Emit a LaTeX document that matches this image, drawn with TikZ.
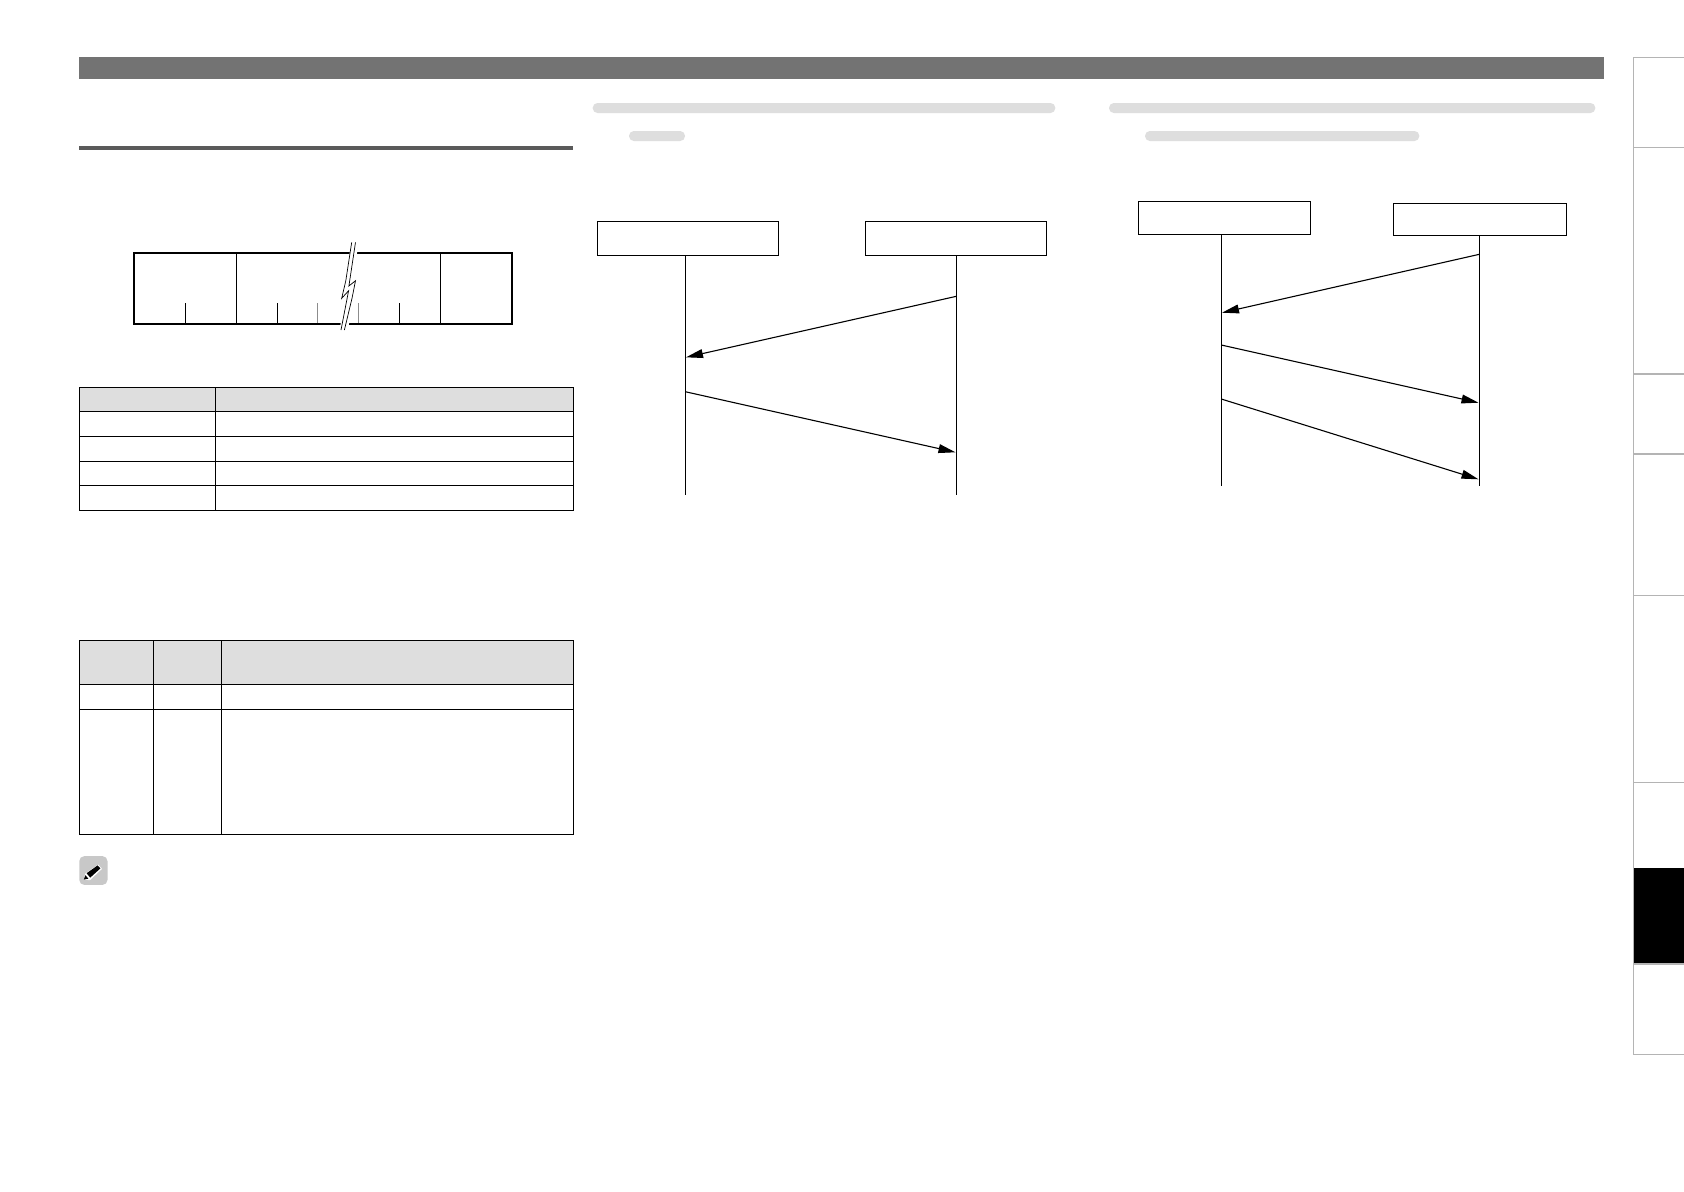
\documentclass[tikz,border=0pt]{standalone}
\usetikzlibrary{arrows.meta}
\definecolor{barc}{HTML}{737373}
\definecolor{rulec}{HTML}{5A5A5A}
\definecolor{headc}{HTML}{DEDEDE}
\definecolor{iconc}{HTML}{C8C8C8}
\definecolor{sidec}{HTML}{B4B4B4}
\tikzset{
  tbl/.style={draw=black,line width=0.6pt},
  pill/.style={fill=headc,rounded corners=2.4pt},
  fieldframe/.style={draw=black,line width=1pt},
  fieldline/.style={draw=black,line width=0.5pt},
  graytick/.style={draw=black!45,line width=0.5pt},
  partybox/.style={draw=black,line width=0.55pt,fill=white,rectangle,inner sep=0pt,outer sep=0pt,anchor=north west},
  lifeline/.style={draw=black,line width=0.55pt},
  msg/.style={draw=black,line width=0.55pt,-{Triangle[length=8.5pt,width=4.4pt]}},
  sideline/.style={draw=sidec,line width=0.5pt},
  sidethick/.style={draw=sidec,line width=1pt},
}
\begin{document}
\begin{tikzpicture}[x=0.5pt,y=-0.5pt]
\useasboundingbox (0,0) rectangle (1684,1191);
\fill[white] (0,0) rectangle (1684,1191);
% top bar and rule
\fill[barc] (79,57) rectangle (1604,79);
\fill[rulec] (79,146) rectangle (573,150);
% field diagram
\draw[fieldline] (236.3,253) -- (236.3,324);
\draw[fieldline] (440.2,253) -- (440.2,324);
\draw[fieldline] (185.3,303.3) -- (185.3,324);
\draw[fieldline] (277.3,303.3) -- (277.3,324);
\draw[graytick] (317.6,303.3) -- (317.6,324);
\draw[graytick] (358.6,303.3) -- (358.6,324);
\draw[fieldline] (399.2,303.3) -- (399.2,324);
\draw[fieldframe] (133.7,253) rectangle (512,324);
% lightning break
\path[fill=white,draw=white,line width=2.6pt,line join=round]
  (353,249) -- (347,284) -- (343,296) -- (350,290) -- (343,325) -- (346,325) -- (353.5,296) -- (354.5,284) -- (350,284) -- (355,249) -- cycle;
\path[fill=white]
  (351.7,242.3) -- (345.8,280.7) -- (341.7,298.3) -- (348.6,290.7) -- (341,330) -- (344.4,330)
  -- (352,298.3) -- (355.5,280.7) -- (348.9,286) -- (355.5,242.3) -- cycle;
\draw[black,line width=0.35pt,line join=miter]
  (351.7,242.3) -- (345.8,280.7) -- (341.7,298.3) -- (348.6,290.7) -- (341,330);
\draw[black,line width=0.35pt,line join=miter]
  (355.5,242.3) -- (348.9,286) -- (355.5,280.7) -- (352,298.3) -- (344.4,330);
% table 1
\fill[headc] (79.3,387.2) rectangle (573.4,411.2);
\draw[tbl] (79.3,387.2) rectangle (573.4,510.3);
\draw[tbl] (215.3,387.2) -- (215.3,510.3);
\draw[tbl] (79.3,411.2) -- (573.4,411.2);
\draw[tbl] (79.3,436.3) -- (573.4,436.3);
\draw[tbl] (79.3,461.3) -- (573.4,461.3);
\draw[tbl] (79.3,485.3) -- (573.4,485.3);
% table 2
\fill[headc] (79.3,640.5) rectangle (573.4,684.4);
\draw[tbl] (79.3,640.5) rectangle (573.4,834.5);
\draw[tbl] (153.3,640.5) -- (153.3,834.5);
\draw[tbl] (221.2,640.5) -- (221.2,834.5);
\draw[tbl] (79.3,684.4) -- (573.4,684.4);
\draw[tbl] (79.3,709.4) -- (573.4,709.4);
% note icon
\fill[iconc,rounded corners=2.5pt] (79.3,856.1) rectangle (107.5,884.9);
\fill[white] (83.8,879.6) -- (85.4,873.4) -- (98.2,864.6) -- (102,868.8) -- (90,880.2) -- cycle;
\fill[black] (83.8,879.6) -- (85.4,875.2) -- (88.4,878.6) -- cycle;
\fill[black] (86.6,873.2) -- (97.6,865.4) -- (100.4,868.4) -- (90.2,877.6) -- cycle;
% pills
\fill[pill] (592.7,103) rectangle (1055.3,113);
\fill[pill] (629,131) rectangle (685,141);
\fill[pill] (1109,103) rectangle (1595.3,113);
\fill[pill] (1145,131) rectangle (1419.3,141);
% middle sequence diagram
\node[partybox,minimum width=90.7pt,minimum height=17pt] (ma) at (597.3,221.3) {};
\node[partybox,minimum width=90.7pt,minimum height=17pt] (mb) at (865.3,221.3) {};
\coordinate (maend) at (685.3,495);
\coordinate (mbend) at (956.3,495);
\draw[lifeline] (maend |- ma.south) -- (maend);
\draw[lifeline] (mbend |- mb.south) -- (mbend);
\coordinate (m1s) at (956.3,296.3);
\coordinate (m1e) at (686,357.3);
\coordinate (m2s) at (685.3,391.7);
\coordinate (m2e) at (955.5,452.3);
\draw[msg] (m1s) -- (m1e);
\draw[msg] (m2s) -- (m2e);
% right sequence diagram
\node[partybox,minimum width=86.2pt,minimum height=16.5pt] (ra) at (1138.3,201.3) {};
\node[partybox,minimum width=86.7pt,minimum height=16pt] (rb) at (1393.3,203.3) {};
\coordinate (raend) at (1221.3,485.7);
\coordinate (rbend) at (1479.3,485.7);
\draw[lifeline] (raend |- ra.south) -- (raend);
\draw[lifeline] (rbend |- rb.south) -- (rbend);
\coordinate (r1s) at (1479.3,254.3);
\coordinate (r1e) at (1222,312.7);
\coordinate (r2s) at (1221.3,345);
\coordinate (r2e) at (1478.5,402.7);
\coordinate (r3s) at (1221.3,399);
\coordinate (r3e) at (1478.5,479.3);
\draw[msg] (r1s) -- (r1e);
\draw[msg] (r2s) -- (r2e);
\draw[msg] (r3s) -- (r3e);
% sidebar
\fill[black] (1633.3,867.7) rectangle (1684,963.3);
\draw[sideline] (1633.3,57) -- (1633.3,1054.3);
\draw[sideline] (1633.3,57) -- (1684,57);
\draw[sideline] (1633.3,147) -- (1684,147);
\draw[sidethick] (1633.3,373.5) -- (1684,373.5);
\draw[sidethick] (1633.3,454) -- (1684,454);
\draw[sideline] (1633.3,595) -- (1684,595);
\draw[sideline] (1633.3,782.3) -- (1684,782.3);
\draw[sidethick] (1633.3,963.8) -- (1684,963.8);
\draw[sideline] (1633.3,1054.3) -- (1684,1054.3);
\end{tikzpicture}
\end{document}
